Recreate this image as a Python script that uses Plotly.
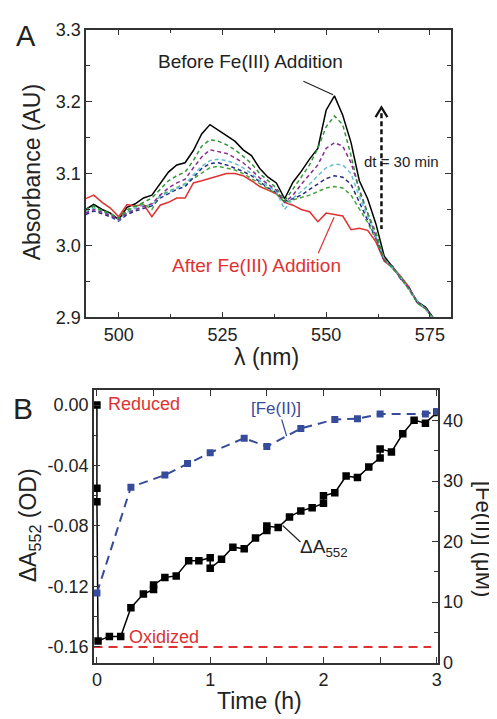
import plotly.graph_objects as go

W, H = 497, 719
def px(x): return x / W
def py(y): return 1 - y / H

# ---------------- Panel A data ----------------
wavelength = [492, 494, 496, 498, 500, 502, 504, 506, 508, 510, 512, 514, 516, 518, 520, 522,
              524, 526, 528, 530, 532, 534, 536, 538, 540, 542, 544, 546, 548, 550, 552, 554,
              556, 558, 560, 562, 564, 566, 568, 570, 572, 574, 576, 578]
abs_before = [3.050, 3.057, 3.050, 3.045, 3.036, 3.053, 3.058, 3.066, 3.070, 3.086, 3.102, 3.112,
              3.115, 3.132, 3.155, 3.168, 3.160, 3.152, 3.145, 3.133, 3.125, 3.107, 3.095, 3.087,
              3.065, 3.088, 3.103, 3.120, 3.135, 3.188, 3.208, 3.181, 3.143, 3.090, 3.065, 3.030,
              2.985, 2.970, 2.955, 2.940, 2.922, 2.914, 2.898, 2.880]
abs_green1 = [3.050, 3.055, 3.048, 3.044, 3.038, 3.048, 3.054, 3.060, 3.066, 3.078, 3.090, 3.097,
              3.102, 3.118, 3.138, 3.147, 3.145, 3.140, 3.133, 3.124, 3.114, 3.100, 3.090, 3.080,
              3.062, 3.078, 3.095, 3.112, 3.135, 3.165, 3.180, 3.168, 3.125, 3.075, 3.045, 3.018,
              2.982, 2.968, 2.956, 2.938, 2.920, 2.912, 2.896, 2.880]
abs_purple = [3.045, 3.050, 3.046, 3.042, 3.036, 3.045, 3.050, 3.054, 3.058, 3.070, 3.080, 3.087,
              3.092, 3.108, 3.123, 3.133, 3.130, 3.128, 3.122, 3.115, 3.105, 3.094, 3.085, 3.077,
              3.060, 3.070, 3.085, 3.098, 3.112, 3.135, 3.143, 3.138, 3.115, 3.078, 3.045, 3.015,
              2.980, 2.970, 2.954, 2.940, 2.921, 2.913, 2.897, 2.880]
abs_cyan = [3.047, 3.052, 3.047, 3.043, 3.035, 3.046, 3.052, 3.056, 3.056, 3.068, 3.074, 3.080,
            3.085, 3.098, 3.110, 3.118, 3.120, 3.118, 3.114, 3.108, 3.100, 3.090, 3.082, 3.075,
            3.050, 3.066, 3.075, 3.085, 3.097, 3.108, 3.113, 3.112, 3.100, 3.068, 3.040, 3.012,
            2.981, 2.969, 2.955, 2.939, 2.923, 2.911, 2.897, 2.880]
abs_navy = [3.043, 3.048, 3.044, 3.040, 3.034, 3.043, 3.048, 3.052, 3.055, 3.066, 3.072, 3.078,
            3.082, 3.095, 3.107, 3.114, 3.115, 3.112, 3.108, 3.103, 3.097, 3.088, 3.080, 3.074,
            3.062, 3.065, 3.070, 3.078, 3.086, 3.093, 3.097, 3.095, 3.085, 3.060, 3.035, 3.010,
            2.979, 2.971, 2.953, 2.941, 2.920, 2.914, 2.896, 2.880]
abs_green2 = [3.048, 3.054, 3.049, 3.044, 3.037, 3.050, 3.055, 3.058, 3.050, 3.070, 3.075, 3.080,
              3.086, 3.093, 3.100, 3.108, 3.110, 3.108, 3.105, 3.100, 3.093, 3.085, 3.078, 3.072,
              3.060, 3.063, 3.066, 3.070, 3.075, 3.080, 3.082, 3.080, 3.070, 3.050, 3.032, 3.008,
              2.980, 2.968, 2.956, 2.939, 2.922, 2.912, 2.898, 2.880]
abs_after = [3.065, 3.070, 3.060, 3.052, 3.040, 3.057, 3.055, 3.057, 3.040, 3.056, 3.060, 3.066,
             3.066, 3.087, 3.090, 3.093, 3.097, 3.100, 3.100, 3.097, 3.090, 3.082, 3.077, 3.072,
             3.060, 3.056, 3.050, 3.047, 3.033, 3.045, 3.043, 3.041, 3.022, 3.024, 3.021, 3.005,
             2.978, 2.970, 2.957, 2.942, 2.920, 2.912, 2.897, 2.880]

# ---------------- Panel B data ----------------
dA_time = [0, 0, 0, 0.01, 0.11, 0.21, 0.30, 0.41, 0.50, 0.50, 0.60, 0.70, 0.81, 0.90, 1.00, 1.00,
           1.10, 1.20, 1.30, 1.40, 1.50, 1.50, 1.60, 1.70, 1.80, 1.90, 2.00, 2.00, 2.10, 2.20,
           2.30, 2.40, 2.50, 2.50, 2.60, 2.70, 2.80, 2.90, 3.00]
dA552 = [0.000, -0.055, -0.064, -0.156, -0.153, -0.153, -0.134, -0.125, -0.122, -0.119, -0.114,
         -0.113, -0.103, -0.103, -0.101, -0.108, -0.102, -0.094, -0.095, -0.088, -0.083, -0.080,
         -0.081, -0.074, -0.070, -0.068, -0.065, -0.060, -0.058, -0.047, -0.048, -0.041, -0.035,
         -0.029, -0.031, -0.019, -0.010, -0.012, -0.005]
fe_time = [0, 0.3, 0.6, 0.8, 1.0, 1.3, 1.5, 1.8, 2.1, 2.3, 2.5, 2.9, 3.0]
fe_conc = [11.5, 29.0, 31.0, 32.9, 34.7, 37.1, 35.7, 38.7, 40.2, 40.3, 41.1, 41.1, 41.5]
oxidized_time = [-0.03, 2.95]
oxidized_level = [-0.16, -0.16]

left_ticks = [0.0, -0.04, -0.08, -0.12, -0.16]
left_ticktext = ["0.00", "-0.04", "-0.08", "-0.12", "-0.16"]

FONT = "Liberation Sans, Arial, Helvetica, sans-serif"
AX = "#333333"
RED = "rgb(222,50,50)"
BLUE = "rgb(55,75,155)"

fig = go.Figure()

spectra = [
    (abs_before, "black", "solid"),
    (abs_after, RED, "solid"),
    (abs_green2, "rgb(70,165,60)", "4px,3px"),
    (abs_navy, "rgb(40,45,130)", "4px,3px"),
    (abs_cyan, "rgb(100,190,210)", "4px,3px"),
    (abs_purple, "rgb(135,45,145)", "4px,3px"),
    (abs_green1, "rgb(50,150,60)", "4px,3px"),
]
for ys, col, dash in spectra:
    fig.add_trace(go.Scatter(x=wavelength, y=ys, mode="lines", xaxis="x", yaxis="y",
                             line=dict(color=col, width=1.5, dash=dash), showlegend=False))

fig.add_trace(go.Scatter(x=oxidized_time, y=oxidized_level, mode="lines", xaxis="x2", yaxis="y2",
                         line=dict(color=RED, width=2, dash="9px,6px"), showlegend=False))
fig.add_trace(go.Scatter(x=fe_time, y=fe_conc, mode="lines+markers", xaxis="x2", yaxis="y3",
                         line=dict(color=BLUE, width=2, dash="9px,6px"),
                         marker=dict(symbol="square", size=7, color=BLUE), showlegend=False))
fig.add_trace(go.Scatter(x=dA_time, y=dA552, mode="lines+markers", xaxis="x2", yaxis="y2",
                         line=dict(color="black", width=1.5),
                         marker=dict(symbol="square", size=7.5, color="black"), showlegend=False))

common = dict(showline=True, linecolor=AX, linewidth=1.5, ticks="inside", tickcolor=AX,
              tickwidth=1.2, ticklen=6, showgrid=False, zeroline=False,
              tickfont=dict(family=FONT, size=18, color="#222"))

fig.update_layout(
    width=W, height=H, margin=dict(l=0, r=0, t=0, b=0),
    paper_bgcolor="white", plot_bgcolor="white",
    font=dict(family=FONT, color="#222"),
    xaxis=dict(domain=[px(77), px(446)], range=[492.14, 580], anchor="y", tick0=500, dtick=25,
               mirror="allticks", minor=dict(ticks="inside", ticklen=4, dtick=12.5, tickcolor=AX),
               **common),
    yaxis=dict(domain=[py(308), py(12)], range=[2.9, 3.3], anchor="x", dtick=0.1, tickformat=".1f",
               mirror="allticks", minor=dict(ticks="inside", ticklen=4, dtick=0.05, tickcolor=AX),
               **common),
    xaxis2=dict(domain=[px(85), px(433)], range=[-0.026, 3.009], anchor="y2", tick0=0, dtick=1,
                mirror="allticks", minor=dict(ticks="inside", ticklen=4, dtick=0.5, tickcolor=AX),
                **common),
    yaxis2=dict(domain=[py(663), py(383)], range=[-0.1703, 0.0097], anchor="x2",
                tickvals=left_ticks, ticktext=left_ticktext,
                minor=dict(ticks="inside", ticklen=4, dtick=0.02, tickcolor=AX), **common),
    yaxis3=dict(overlaying="y2", side="right", anchor="x2", range=[0, 45], dtick=10,
                minor=dict(ticks="inside", ticklen=4, dtick=5, tickcolor=AX), **common),
)

def ann(x, y, text, size, color="#222", angle=0, xanchor="center"):
    fig.add_annotation(x=px(x), y=py(y), xref="paper", yref="paper", text=text, showarrow=False,
                       textangle=angle, xanchor=xanchor, yanchor="middle",
                       font=dict(family=FONT, size=size, color=color))

def seg(x0, y0, x1, y1, color="#222", width=1.2, dash="solid"):
    fig.add_shape(type="line", xref="paper", yref="paper", x0=px(x0), y0=py(y0), x1=px(x1),
                  y1=py(y1), line=dict(color=color, width=width, dash=dash))

# Panel labels and titles
ann(16, 19, "A", 29)
ann(13, 402, "B", 30)
ann(22, 159, "Absorbance (AU)", 23, angle=-90)
ann(260, 349, "λ (nm)", 23)
ann(20, 522, "ΔA<sub>552</sub> (OD)", 23, angle=-90)
ann(480, 536, "[Fe(II)] (μM)", 22, angle=90)
ann(253, 703, "Time (h)", 23)

# Panel A annotations
ann(243, 45, "Before Fe(III) Addition", 19)
seg(297, 65, 327, 79)
ann(250, 255, "After Fe(III) Addition", 19, color=RED)
seg(312, 242, 328, 205, color=RED)
ann(396, 148, "dt = 30 min", 15)
seg(376, 98, 376, 217, color="#111", width=2.5, dash="5px,3px")
fig.add_shape(type="path", xref="paper", yref="paper",
              path=f"M {px(370)} {py(102)} L {px(376)} {py(92)} L {px(382)} {py(102)}",
              line=dict(color="#111", width=2.2))

# Panel B annotations
ann(97, 397, "Reduced", 18, color=RED, xanchor="left")
ann(118, 637, "Oxidized", 18, color=RED, xanchor="left")
ann(242, 402, "[Fe(II)]", 17, color=BLUE, xanchor="left")
seg(275, 413, 280, 430, color=BLUE, width=1.2)
ann(292, 545, "ΔA<sub>552</sub>", 19, xanchor="left")
seg(276, 522, 294, 539)

fig.write_html("out.html")
